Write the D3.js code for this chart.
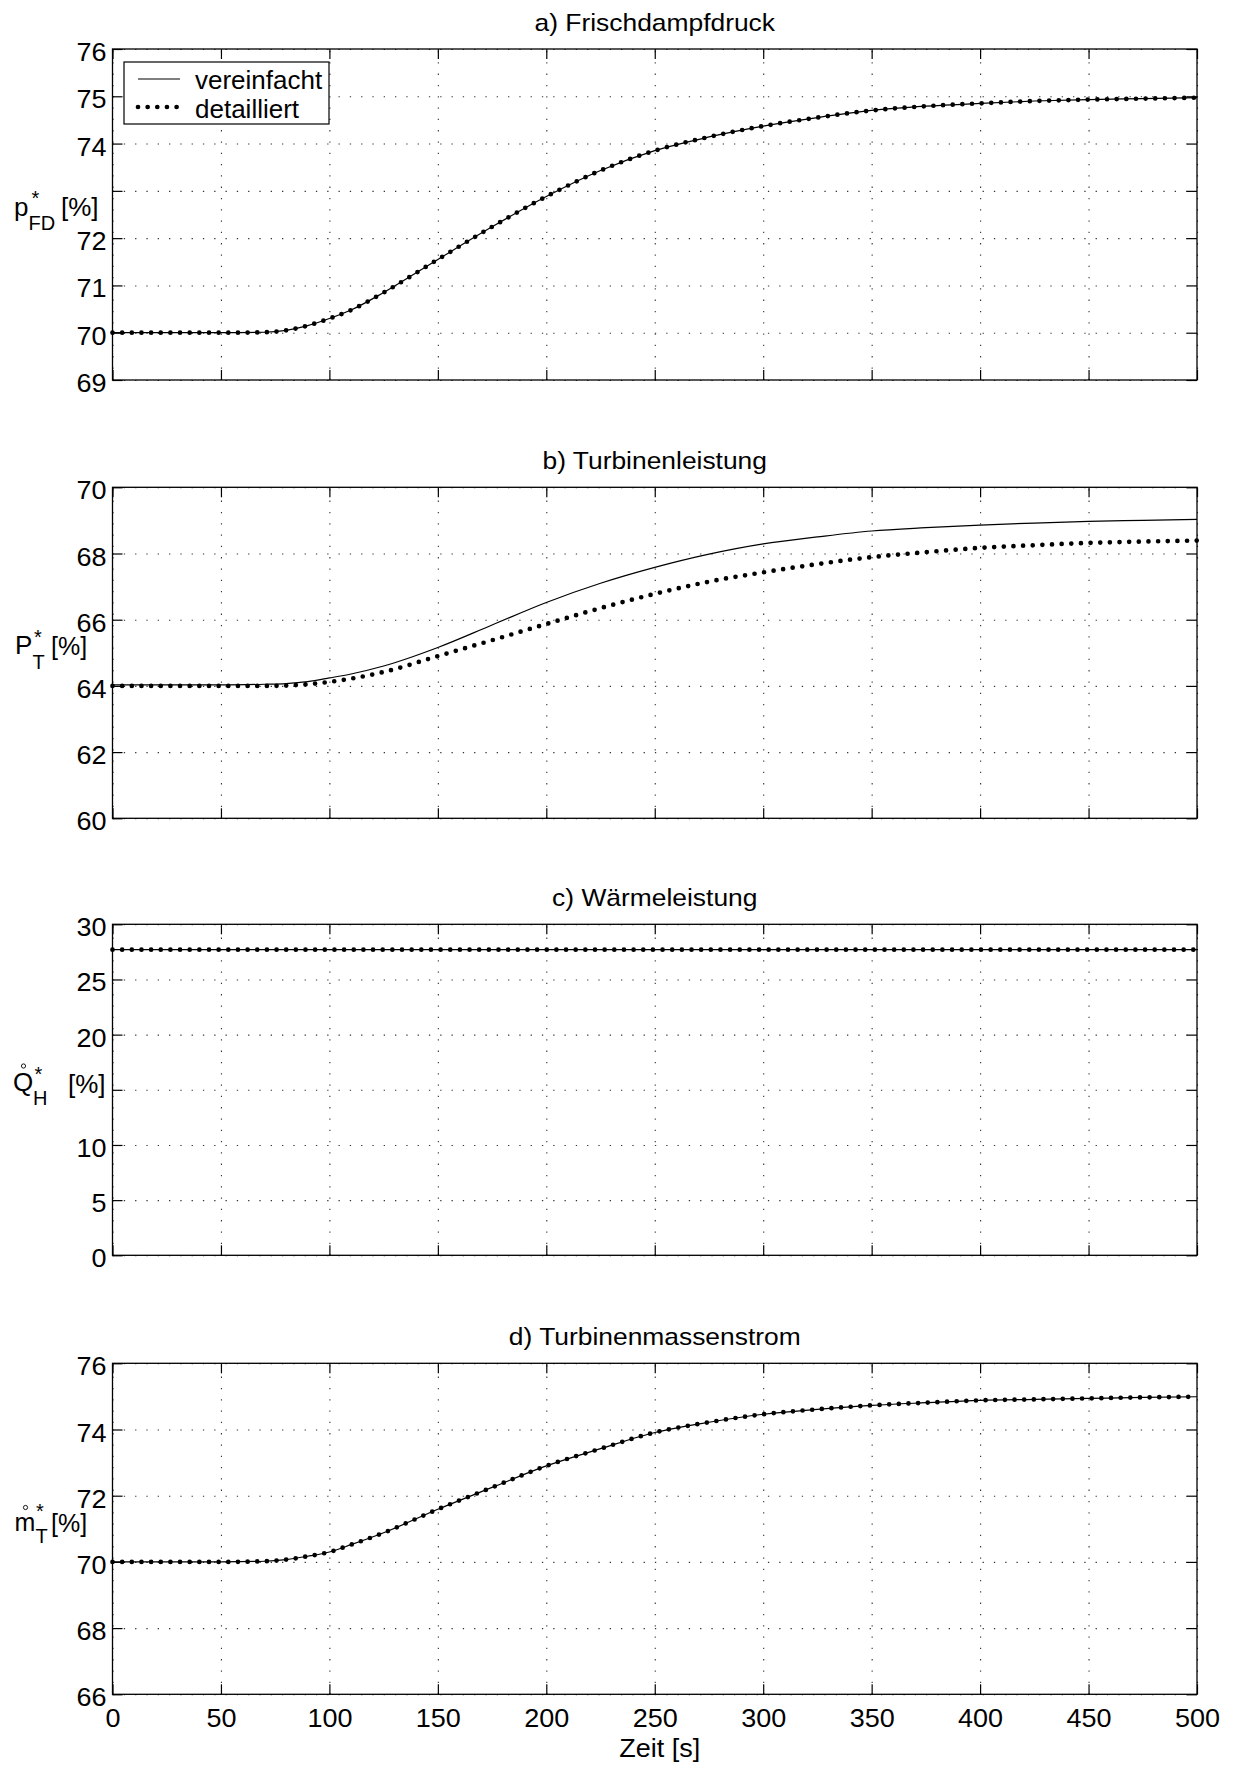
<!DOCTYPE html>
<html>
<head>
<meta charset="utf-8">
<script src="https://cdn.jsdelivr.net/npm/d3@7"></script>
<style>
  body { margin: 0; background: #fff; }
  svg text { font-family: "Liberation Sans", Arial, Helvetica, sans-serif; fill: #000; }
</style>
</head>
<body>
<svg id="chart" width="1234" height="1765"></svg>
<script>
// Sample times [s]
const zeit = [0, 25, 50, 70, 80, 90, 100, 110, 125, 150, 175, 200, 225, 250, 275, 300, 325, 350, 375, 400, 425, 450, 475, 500];

// a) Frischdampfdruck [%]
const druckVereinfacht = [70.0, 70.0, 70.0, 70.01, 70.05, 70.15, 70.3, 70.48, 70.85, 71.55, 72.24, 72.88, 73.43, 73.85, 74.14, 74.37, 74.55, 74.7, 74.79, 74.85, 74.9, 74.93, 74.95, 74.97];
const druckDetailliert = [70.0, 70.0, 70.0, 70.01, 70.05, 70.15, 70.3, 70.48, 70.85, 71.55, 72.24, 72.88, 73.43, 73.85, 74.14, 74.37, 74.55, 74.7, 74.79, 74.85, 74.9, 74.93, 74.95, 74.97];

// b) Turbinenleistung [%]
const leistungVereinfacht = [64.03, 64.03, 64.03, 64.05, 64.07, 64.13, 64.24, 64.36, 64.6, 65.16, 65.84, 66.52, 67.1, 67.58, 67.98, 68.29, 68.5, 68.68, 68.78, 68.86, 68.92, 68.97, 69.0, 69.03];
const leistungDetailliert = [64.0, 64.0, 64.0, 64.0, 64.01, 64.05, 64.12, 64.22, 64.42, 64.9, 65.38, 65.87, 66.35, 66.78, 67.15, 67.43, 67.68, 67.89, 68.04, 68.17, 68.25, 68.32, 68.36, 68.39];

// c) Wärmeleistung [%]
const waermeVereinfacht = [27.7, 27.7, 27.7, 27.7, 27.7, 27.7, 27.7, 27.7, 27.7, 27.7, 27.7, 27.7, 27.7, 27.7, 27.7, 27.7, 27.7, 27.7, 27.7, 27.7, 27.7, 27.7, 27.7, 27.7];
const waermeDetailliert = [27.7, 27.7, 27.7, 27.7, 27.7, 27.7, 27.7, 27.7, 27.7, 27.7, 27.7, 27.7, 27.7, 27.7, 27.7, 27.7, 27.7, 27.7, 27.7, 27.7, 27.7, 27.7, 27.7, 27.7];

// d) Turbinenmassenstrom [%]
const massenstromVereinfacht = [70.0, 70.0, 70.0, 70.02, 70.07, 70.17, 70.3, 70.52, 70.88, 71.59, 72.25, 72.9, 73.42, 73.91, 74.22, 74.46, 74.61, 74.73, 74.81, 74.88, 74.91, 74.94, 74.97, 74.99];
const massenstromDetailliert = [70.0, 70.0, 70.0, 70.02, 70.07, 70.17, 70.3, 70.52, 70.88, 71.59, 72.25, 72.9, 73.42, 73.91, 74.22, 74.46, 74.61, 74.73, 74.81, 74.88, 74.91, 74.94, 74.97, 74.99];

// Axis ticks and labels
const xTicks = [0, 50, 100, 150, 200, 250, 300, 350, 400, 450, 500];
const xTickLabels = ["0", "50", "100", "150", "200", "250", "300", "350", "400", "450", "500"];
const yTicksA = [69, 70, 71, 72, 73, 74, 75, 76];
const yTickLabelsA = ["69", "70", "71", "72", "", "74", "75", "76"];
const yTicksB = [60, 62, 64, 66, 68, 70];
const yTickLabelsB = ["60", "62", "64", "66", "68", "70"];
const yTicksC = [0, 5, 10, 15, 20, 25, 30];
const yTickLabelsC = ["0", "5", "10", "", "20", "25", "30"];
const yTicksD = [66, 68, 70, 72, 74, 76];
const yTickLabelsD = ["66", "68", "70", "72", "74", "76"];

const titles = ["a) Frischdampfdruck", "b) Turbinenleistung", "c) Wärmeleistung", "d) Turbinenmassenstrom"];
const legendLabels = ["vereinfacht", "detailliert"];
const xAxisLabel = "Zeit [s]";

// ---- layout ----
const svg = d3.select("#chart");
const plotLeft = 112.5, plotRight = 1197, plotHeight = 331;
const panelTops = [49, 487.3, 924.3, 1363.3];
const tickLen = 10;
const dotWidth = 4.7;
const dotPattern = "0 9.65";

const x = d3.scaleLinear().domain([0, 500]).range([plotLeft, plotRight]);

const panels = [
  { title: titles[0], domain: [69, 76], ticks: yTicksA, labels: yTickLabelsA, a: druckVereinfacht, b: druckDetailliert },
  { title: titles[1], domain: [60, 70], ticks: yTicksB, labels: yTickLabelsB, a: leistungVereinfacht, b: leistungDetailliert },
  { title: titles[2], domain: [0, 30], ticks: yTicksC, labels: yTickLabelsC, a: waermeVereinfacht, b: waermeDetailliert },
  { title: titles[3], domain: [66, 76], ticks: yTicksD, labels: yTickLabelsD, a: massenstromVereinfacht, b: massenstromDetailliert }
];

function styleAxis(g) {
  g.select(".domain").remove();
  g.selectAll(".tick line").attr("stroke", "#000").attr("stroke-width", 1.2);
}

panels.forEach((p, i) => {
  const top = panelTops[i], bottom = top + plotHeight;
  const y = d3.scaleLinear().domain(p.domain).range([bottom, top]);
  const g = svg.append("g").attr("class", "panel");

  // dotted grid
  g.append("g")
    .attr("transform", `translate(${plotLeft},0)`)
    .call(d3.axisLeft(y).tickValues(p.ticks).tickSize(-(plotRight - plotLeft)).tickFormat(""))
    .call(s => s.select(".domain").remove())
    .selectAll(".tick line")
    .attr("stroke", "#333").attr("stroke-width", 1.1).attr("stroke-dasharray", "1.3 10");
  g.append("g")
    .attr("transform", `translate(0,${bottom})`)
    .call(d3.axisBottom(x).tickValues(xTicks).tickSize(-plotHeight).tickFormat(""))
    .call(s => s.select(".domain").remove())
    .selectAll(".tick line")
    .attr("stroke", "#333").attr("stroke-width", 1.1).attr("stroke-dasharray", "1.3 10");

  // frame
  g.append("rect")
    .attr("x", plotLeft).attr("y", top)
    .attr("width", plotRight - plotLeft).attr("height", plotHeight)
    .attr("fill", "none").attr("stroke", "#000").attr("stroke-width", 1.3);

  // inward ticks on all four sides
  const left = g.append("g").attr("transform", `translate(${plotLeft},0)`)
    .call(d3.axisLeft(y).tickValues(p.ticks).tickSize(-tickLen).tickPadding(6)
      .tickFormat((d, k) => p.labels[k]))
    .call(styleAxis);
  left.selectAll(".tick text")
    .attr("x", null).attr("dy", null).attr("y", 11.5)
    .attr("font-size", 25).attr("text-anchor", "end")
    .attr("transform", "translate(-6,0) scale(1.08,1)");

  g.append("g").attr("transform", `translate(${plotRight},0)`)
    .call(d3.axisRight(y).tickValues(p.ticks).tickSize(-tickLen).tickFormat(""))
    .call(styleAxis);
  g.append("g").attr("transform", `translate(0,${top})`)
    .call(d3.axisTop(x).tickValues(xTicks).tickSize(-tickLen).tickFormat(""))
    .call(styleAxis);
  const bottomAxis = g.append("g").attr("transform", `translate(0,${bottom})`)
    .call(d3.axisBottom(x).tickValues(xTicks).tickSize(-tickLen)
      .tickFormat((d, k) => i === panels.length - 1 ? xTickLabels[k] : ""))
    .call(styleAxis);
  bottomAxis.selectAll(".tick text")
    .attr("dy", null).attr("y", 33)
    .attr("font-size", 25)
    .attr("transform", "scale(1.08,1)");

  // series
  const line = d3.line()
    .x((d, k) => x(zeit[k]))
    .y(d => y(d))
    .curve(d3.curveMonotoneX);

  g.append("path").datum(p.a)
    .attr("d", line).attr("fill", "none")
    .attr("stroke", "#000").attr("stroke-width", 1.2);
  g.append("path").datum(p.b)
    .attr("d", line).attr("fill", "none")
    .attr("stroke", "#000").attr("stroke-width", dotWidth)
    .attr("stroke-linecap", "round").attr("stroke-dasharray", dotPattern);

  // title
  svg.append("text")
    .attr("transform", `translate(${(plotLeft + plotRight) / 2},${top - 18}) scale(1.1,1)`)
    .attr("text-anchor", "middle").attr("font-size", 24)
    .text(p.title);
});

// ---- y axis labels ----
function label(txt, xPos, yPos, size, anchor) {
  return svg.append("text").attr("x", xPos).attr("y", yPos)
    .attr("font-size", size).attr("text-anchor", anchor || "start").text(txt);
}
// a) p*_FD [%]
label("p", 14, 216, 26);
label("*", 35.5, 204.5, 20, "middle");
label("FD", 28.5, 230, 20);
label("[%]", 61, 216, 26);
// b) P*_T [%]
label("P", 15, 654, 26);
label("*", 38, 643.5, 20, "middle");
label("T", 32.5, 669, 20);
label("[%]", 51, 655, 25);
// c) Q̊*_H [%]
label("Q", 13, 1091, 26);
svg.append("circle").attr("cx", 23.5).attr("cy", 1066).attr("r", 2.1)
  .attr("fill", "none").attr("stroke", "#000").attr("stroke-width", 0.9);
label("*", 38.5, 1081, 20, "middle");
label("H", 33, 1105, 20);
label("[%]", 68, 1093, 26);
// d) m̊*_T [%]
label("m", 14.5, 1531, 25);
svg.append("circle").attr("cx", 25.5).attr("cy", 1507.5).attr("r", 2.1)
  .attr("fill", "none").attr("stroke", "#000").attr("stroke-width", 0.9);
label("*", 40, 1518, 20, "middle");
label("T", 35.5, 1543, 20);
label("[%]", 51, 1532, 25);

// x axis label
svg.append("text")
  .attr("transform", `translate(${(plotLeft + plotRight) / 2 + 5},1757) scale(1.08,1)`)
  .attr("text-anchor", "middle").attr("font-size", 25)
  .text(xAxisLabel);

// ---- legend (panel a) ----
const lg = svg.append("g").attr("class", "legend");
lg.append("rect").attr("x", 124).attr("y", 62).attr("width", 205).attr("height", 62)
  .attr("fill", "#fff").attr("stroke", "#000").attr("stroke-width", 1.2);
lg.append("line").attr("x1", 138).attr("x2", 180).attr("y1", 79).attr("y2", 79)
  .attr("stroke", "#000").attr("stroke-width", 1.2);
lg.append("line").attr("x1", 138).attr("x2", 178).attr("y1", 107).attr("y2", 107)
  .attr("stroke", "#000").attr("stroke-width", dotWidth)
  .attr("stroke-linecap", "round").attr("stroke-dasharray", dotPattern);
lg.append("text").attr("x", 195).attr("y", 89).attr("font-size", 26).text(legendLabels[0]);
lg.append("text").attr("x", 195).attr("y", 118).attr("font-size", 26).text(legendLabels[1]);
</script>
</body>
</html>
